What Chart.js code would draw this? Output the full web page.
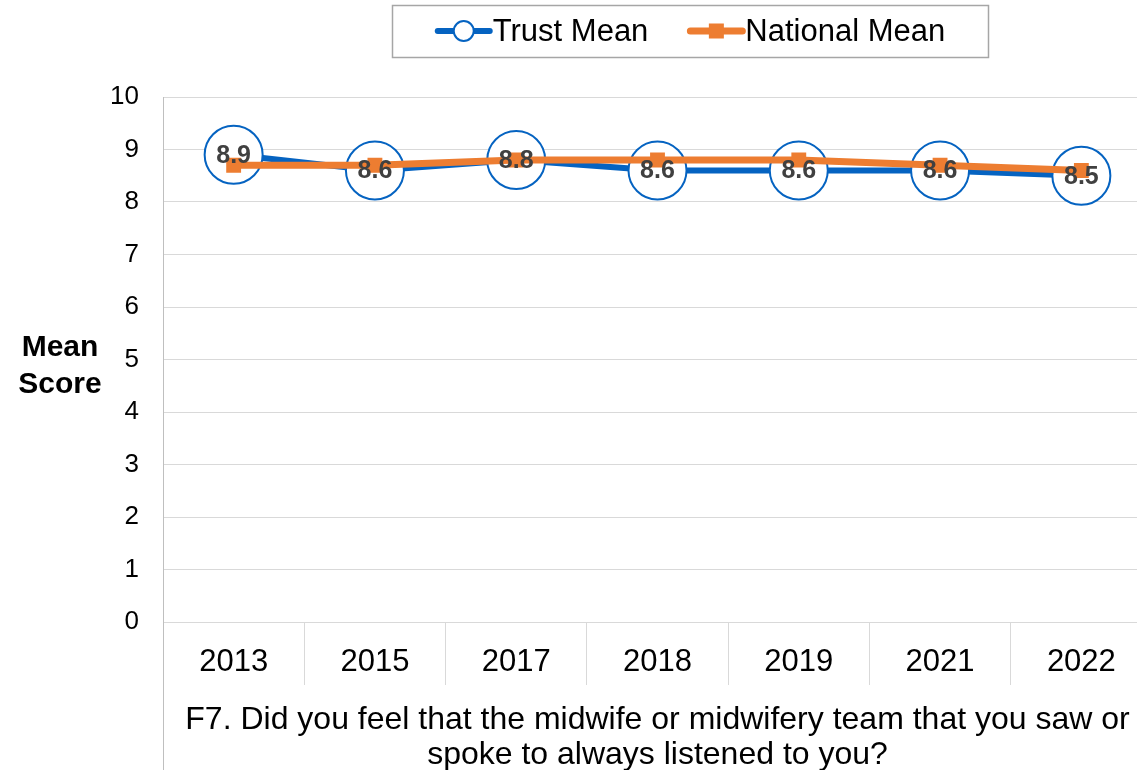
<!DOCTYPE html>
<html>
<head>
<meta charset="utf-8">
<title>F7 Mean Score</title>
<script src="https://cdn.jsdelivr.net/npm/chart.js@4.4.1/dist/chart.umd.min.js"></script>
<style>
    html, body { margin: 0; padding: 0; background: #fff; overflow: hidden; }
    #wrap { width: 1137px; height: 770px; overflow: hidden; position: relative; }
    #meanChart { position: absolute; left: 0; top: 0; }
</style>
</head>
<body>
<div id="wrap"><canvas id="meanChart" width="1152" height="770"></canvas></div>
<script>
// survey years
var years = ["2013", "2015", "2017", "2018", "2019", "2021", "2022"];
// trust / national means
var trustMean = [8.9, 8.6, 8.8, 8.6, 8.6, 8.6, 8.5];
var nationalMean = [8.7, 8.7, 8.8, 8.8, 8.8, 8.7, 8.6];
// y axis range
var yMin = 0, yMax = 10, yStep = 1;
var seriesNames = ["Trust Mean", "National Mean"];
var yTitle = ["Mean", "Score"];
var xTitle = ["F7. Did you feel that the midwife or midwifery team that you saw or",
              "spoke to always listened to you?"];

var BLUE = "#0563C1";
var ORANGE = "#ED7D31";
var FONT = "'Liberation Sans', Arial, sans-serif";

Chart.defaults.font.family = FONT;
Chart.defaults.color = "#000";

// value labels on the trust circles
var valueLabels = {
    id: "valueLabels",
    afterDatasetsDraw: function (chart) {
        var ctx = chart.ctx;
        var meta = chart.getDatasetMeta(0);
        ctx.save();
        ctx.font = "bold 25px " + FONT;
        ctx.fillStyle = "#404040";
        ctx.textAlign = "center";
        ctx.textBaseline = "middle";
        meta.data.forEach(function (pt, i) {
            ctx.fillText(trustMean[i].toFixed(1), pt.x, pt.y + 1);
        });
        ctx.restore();
    }
};

// horizontal y title, left axis line running to the bottom, boxed legend
var extras = {
    id: "extras",
    afterDraw: function (chart) {
        var ctx = chart.ctx;
        var area = chart.chartArea;
        ctx.save();

        // y title
        ctx.font = "bold 30px " + FONT;
        ctx.fillStyle = "#000";
        ctx.textAlign = "center";
        ctx.textBaseline = "middle";
        var mid = (area.top + area.bottom) / 2 + 6;
        ctx.fillText(yTitle[0], 60, mid - 18);
        ctx.fillText(yTitle[1], 60, mid + 19);

        // axis line below the plot
        ctx.strokeStyle = "#bfbfbf";
        ctx.lineWidth = 1;
        ctx.beginPath();
        ctx.moveTo(area.left + 0.5, area.bottom);
        ctx.lineTo(area.left + 0.5, chart.height);
        ctx.stroke();

        // legend
        ctx.font = "31px " + FONT;
        var w1 = ctx.measureText(seriesNames[0]).width;
        var w2 = ctx.measureText(seriesNames[1]).width;
        var mk = 58, gap = 39;
        var total = mk + w1 + gap + mk + w2;
        var cx = 690, cy = 31;
        var x = cx - total / 2;
        ctx.strokeStyle = "#a6a6a6";
        ctx.lineWidth = 1.5;
        ctx.strokeRect(392.5, 5.5, 596, 52);

        ctx.lineCap = "round";
        ctx.strokeStyle = BLUE;
        ctx.lineWidth = 6;
        ctx.beginPath();
        ctx.moveTo(x + 3, cy);
        ctx.lineTo(x + mk - 3, cy);
        ctx.stroke();
        ctx.beginPath();
        ctx.arc(x + mk / 2, cy, 10, 0, Math.PI * 2);
        ctx.fillStyle = "#fff";
        ctx.fill();
        ctx.lineWidth = 2;
        ctx.stroke();
        ctx.fillStyle = "#000";
        ctx.textAlign = "left";
        ctx.fillText(seriesNames[0], x + mk, cy + 1);

        x += mk + w1 + gap;
        ctx.strokeStyle = ORANGE;
        ctx.lineWidth = 7;
        ctx.beginPath();
        ctx.moveTo(x + 3, cy);
        ctx.lineTo(x + mk - 3, cy);
        ctx.stroke();
        ctx.fillStyle = ORANGE;
        ctx.fillRect(x + mk / 2 - 7.5, cy - 7.5, 15, 15);
        ctx.fillStyle = "#000";
        ctx.fillText(seriesNames[1], x + mk, cy + 1);

        ctx.restore();
    }
};

var ctx = document.getElementById("meanChart");
var meanChart = new Chart(ctx, {
    type: "line",
    data: {
        labels: years,
        datasets: [
            {
                label: seriesNames[0],
                data: trustMean,
                borderColor: BLUE,
                borderWidth: 6,
                pointRadius: 29,
                pointHoverRadius: 29,
                pointBackgroundColor: "#fff",
                pointBorderColor: BLUE,
                pointBorderWidth: 2,
                tension: 0,
                order: 1
            },
            {
                label: seriesNames[1],
                data: nationalMean,
                borderColor: ORANGE,
                borderWidth: 7,
                pointStyle: "rect",
                pointRadius: 10.5,
                pointHoverRadius: 10.5,
                pointBackgroundColor: ORANGE,
                pointBorderWidth: 0,
                tension: 0,
                order: 0
            }
        ]
    },
    options: {
        responsive: false,
        animation: false,
        events: [],
        layout: {
            autoPadding: false,
            padding: { top: 97, left: 0, right: 0, bottom: 0 }
        },
        plugins: {
            legend: { display: false },
            tooltip: { enabled: false }
        },
        scales: {
            x: {
                offset: true,
                grid: {
                    offset: true,
                    drawOnChartArea: false,
                    drawTicks: true,
                    tickLength: 63,
                    color: "#d9d9d9"
                },
                border: { color: "#d9d9d9" },
                ticks: {
                    font: { size: 31 },
                    color: "#000",
                    padding: -41,
                    maxRotation: 0
                },
                title: {
                    display: true,
                    text: xTitle,
                    font: { size: 32, lineHeight: "35px" },
                    color: "#000",
                    padding: { top: 0, bottom: -3 }
                },
                afterFit: function (scale) { scale.height = 148; }
            },
            y: {
                min: yMin,
                max: yMax,
                ticks: {
                    stepSize: yStep,
                    font: { size: 26 },
                    color: "#000",
                    padding: 24
                },
                grid: { color: "#d9d9d9", drawTicks: false },
                border: { color: "#bfbfbf" },
                afterFit: function (scale) { scale.width = 163; }
            }
        }
    },
    plugins: [valueLabels, extras]
});
</script>
</body>
</html>
